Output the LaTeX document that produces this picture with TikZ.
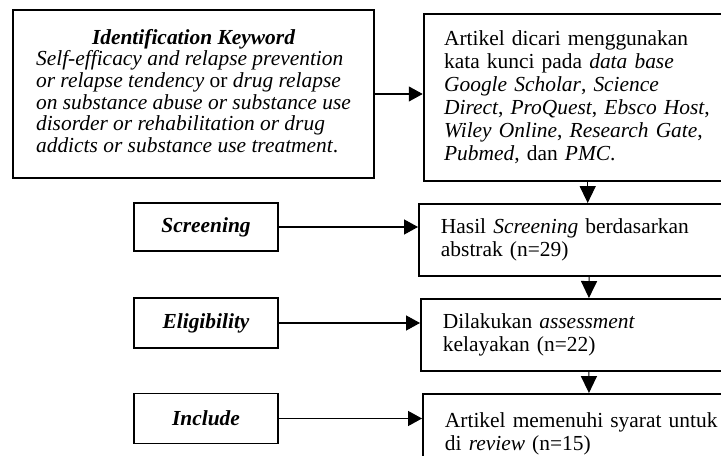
\documentclass[tikz,border=0pt]{standalone}
\usepackage{fontspec}
\setmainfont{Liberation Serif}
\usepackage{tikz}
\usetikzlibrary{arrows.meta,positioning,calc}

\begin{document}
\begin{tikzpicture}[
    x=0.56pt,
    y=-0.56pt,
    font=\fontsize{12}{12.15}\selectfont,
    keybox/.style={
        draw=black,
        line width=1.1pt,
        minimum width=202.2pt,
        minimum height=94.1pt
    },
    stagebox/.style={
        draw=black,
        line width=1.1pt,
        minimum width=80.6pt,
        minimum height=27.4pt,
        align=center,
        font=\fontsize{12}{12.15}\selectfont\bfseries\itshape
    },
    infobox/.style={
        draw=black,
        line width=1.1pt,
        anchor=north west,
        inner xsep=12.3pt,
        text width=170pt,
        minimum height=40.3pt,
        align=left,
        font=\fontsize{12}{12.9}\selectfont
    },
    arr/.style={-{Triangle[length=7.8pt,width=8.4pt]}, line width=0.6pt},
    downarr/.style={-{Triangle[length=9.5pt,width=9pt]}, line width=0.6pt}
]

\useasboundingbox (0,0) rectangle (721,456);
\clip (0,0) rectangle (721,456);

\node[keybox] (keyword) at (193.5,94)
{\begin{tabular}{@{}l@{}}
\multicolumn{1}{@{}c@{}}{\bfseries\itshape Identification Keyword}\\
\itshape Self-efficacy and relapse prevention\\
\itshape or relapse tendency \upshape or \itshape drug relapse\\
\itshape on substance abuse or substance use\\
\itshape disorder or rehabilitation or drug\\
\itshape addicts or substance use treatment\upshape.
\end{tabular}};

\node[infobox, inner xsep=11.4pt, text width=160.8pt,
      minimum width=183.7pt, minimum height=93.5pt] (database) at (422.7,12.7)
{Artikel dicari menggunakan\\
kata kunci pada \textit{data base}\\
\textit{Google Scholar}, \textit{Science}\\
\textit{Direct}, \textit{ProQuest}, \textit{Ebsco Host},\\
\textit{Wiley Online}, \textit{Research Gate},\\
\textit{Pubmed}, dan \textit{PMC}.};

\node[stagebox] (screening) at (206,227) {Screening};
\node[stagebox, minimum height=28pt] (eligibility) at (206,323) {Eligibility};
\node[stagebox, minimum height=28pt] (include) at (206,418.5) {Include};

\node[infobox] (screenres) at (418,203)
{Hasil \textit{Screening} berdasarkan\\
abstrak (n=29)};

\node[infobox] (assess) at (420,298)
{Dilakukan \textit{assessment}\\
kelayakan (n=22)};

\node[infobox, minimum height=44.8pt] (review) at (422,393)
{Artikel memenuhi syarat untuk\\
di \textit{review} (n=15)};

\draw[arr] (keyword.east) -- (keyword.east -| database.west);
\draw[downarr] (database.south) -- (database.south |- screenres.north);
\draw[arr] (screening.east) -- (screening.east -| screenres.west);
\draw[arr] (eligibility.east) -- (eligibility.east -| assess.west);
\draw[arr] (include.east) -- (include.east -| review.west);
\draw[downarr] ([xshift=95.8pt]screenres.south west) -- ([xshift=94.6pt]assess.north west);
\draw[downarr] ([xshift=94.6pt]assess.south west) -- ([xshift=93.5pt]review.north west);

\end{tikzpicture}
\end{document}
